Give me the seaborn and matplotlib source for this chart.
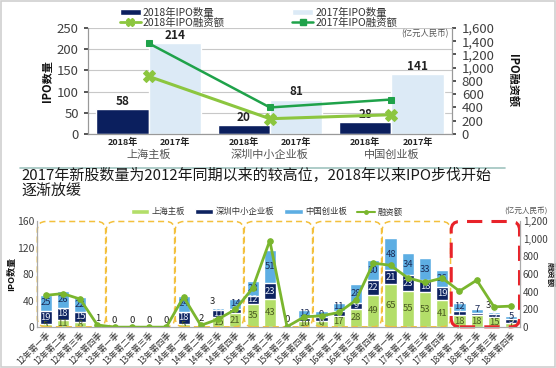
import numpy as np
import pandas as pd
import matplotlib
matplotlib.use('Agg')
import matplotlib.pyplot as plt
import seaborn as sns
from matplotlib.patches import FancyBboxPatch, Patch, Rectangle
from matplotlib.lines import Line2D
from matplotlib.ticker import FuncFormatter
import matplotlib.transforms as mtransforms

sns.set_theme(style='white')
plt.rcParams['font.family'] = ['Noto Sans CJK SC', 'DejaVu Sans']
plt.rcParams['axes.unicode_minus'] = False

# ---------------- data: top chart ----------------
boards = ['上海主板', '深圳中小企业板', '中国创业板']
ipo_2018 = [58, 20, 28]
ipo_2017 = [214, 81, 141]
fin_2018 = [870, 230, 290]
fin_2017 = [1370, 400, 520]

# ---------------- data: bottom chart ----------------
quarters = ['12年第一季', '12年第二季', '12年第三季', '12年第四季',
            '13年第一季', '13年第二季', '13年第三季', '13年第四季',
            '14年第一季', '14年第二季', '14年第三季', '14年第四季',
            '15年第一季', '15年第二季', '15年第三季', '15年第四季',
            '16年第一季', '16年第二季', '16年第三季', '16年第四季',
            '17年第一季', '17年第二季', '17年第三季', '17年第四季',
            '18年第一季', '18年第二季', '18年第三季', '18年第四季']
sh_main = [5, 11, 8, 1, 0, 0, 0, 0, 5, 0, 15, 21, 35, 43, 0, 10,
           9, 17, 28, 49, 65, 55, 53, 41, 18, 18, 15, 7]
sz_sme = [19, 18, 15, 1, 0, 0, 0, 0, 18, 0, 11, 7, 12, 23, 1, 4,
          6, 8, 9, 22, 21, 23, 18, 19, 7, 3, 5, 5]
cy_gem = [25, 26, 22, 1, 0, 0, 0, 0, 24, 2, 3, 14, 23, 51, 0, 12,
          9, 11, 28, 30, 48, 34, 33, 26, 12, 7, 3, 5]
fin_q = [360, 380, 318, 25, 0, 0, 0, 0, 343, 20, 90, 200, 440, 980, 5, 117,
         128, 166, 306, 725, 700, 558, 506, 555, 408, 532, 230, 238]

# ---------------- colours ----------------
NAVY = '#0B1F5E'
LIGHT = '#DCEAF6'
GREEN17 = '#1FA24A'
LIME18 = '#8CC63F'
SH_C = '#B3DE69'
SZ_C = '#0D2260'
CY_C = '#5DAEE3'
LINE_C = '#7AB62E'
GREY = '#404040'

fig = plt.figure(figsize=(5.56, 3.68), dpi=100)
fig.patch.set_facecolor('white')
fig.add_artist(Rectangle((0.002, 0.003), 0.996, 0.994, transform=fig.transFigure,
                         fill=False, edgecolor='#cfcfcf', lw=1.2))

# ================= TOP CHART =================
ax1 = fig.add_axes([0.158, 0.636, 0.655, 0.288])
df_top = pd.DataFrame({'board': boards * 2,
                       'year': ['2018年'] * 3 + ['2017年'] * 3,
                       'count': ipo_2018 + ipo_2017})
sns.barplot(data=df_top, x='board', y='count', hue='year', hue_order=['2018年', '2017年'],
            palette=[NAVY, LIGHT], width=0.86, saturation=1, ax=ax1, legend=False,
            err_kws={'linewidth': 0})
for cont in ax1.containers:
    ax1.bar_label(cont, fontsize=8.5, fontweight='bold', color='#222222', padding=1)
ax1.set_ylim(0, 250)
ax1.set_xlim(-0.5, 2.5)
ax1.set_yticks(range(0, 251, 50))
ax1.yaxis.grid(True, color='#c8c8c8', lw=0.8)
ax1.set_axisbelow(True)
pos = np.arange(len(boards))
ticks = np.concatenate([pos - 0.215, pos + 0.215])
ax1.set_xticks(np.sort(ticks))
ax1.set_xticklabels(['2018年', '2017年'] * 3, fontsize=6.5, fontweight='bold', color='#222222')
ax1.tick_params(axis='x', length=0, pad=3)
ax1.tick_params(axis='y', labelsize=9.5, colors=GREY, length=3, left=True)
ax1.set_xlabel('')
ax1.set_ylabel('IPO数量', fontsize=8, fontweight='bold', color='#111111', labelpad=2)
trans = mtransforms.blended_transform_factory(ax1.transData, ax1.transAxes)
for p, name in zip(pos, boards):
    ax1.text(p, -0.2, name, transform=trans, ha='center', va='center', fontsize=8, color='#555555')
ax1.spines['top'].set_visible(False)
for sp in ['left', 'bottom', 'right']:
    ax1.spines[sp].set_color('#999999')
    ax1.spines[sp].set_linewidth(0.8)

ax1r = ax1.twinx()
sns.lineplot(x=pos, y=fin_2017, ax=ax1r, color=GREEN17, marker='s', markersize=5,
             markeredgecolor=GREEN17, linewidth=1.8)
sns.lineplot(x=pos, y=fin_2018, ax=ax1r, color=LIME18, marker='X', markersize=9,
             markeredgecolor=LIME18, linewidth=2.2)
ax1r.set_ylim(0, 1600)
ax1r.set_yticks(range(0, 1601, 200))
ax1r.yaxis.set_major_formatter(FuncFormatter(lambda v, _: f'{int(v):,}'))
ax1r.tick_params(axis='y', labelsize=9.5, colors=GREY, length=3, right=True, pad=4)
ax1r.set_ylabel('IPO融资额', fontsize=8, fontweight='bold', rotation=270, labelpad=18, color='#111111')
ax1r.spines['top'].set_visible(False)
for sp in ['left', 'bottom', 'right']:
    ax1r.spines[sp].set_color('#999999')
    ax1r.spines[sp].set_linewidth(0.8)
ax1r.text(0.99, 0.985, '(亿元人民币)', transform=ax1r.transAxes, ha='right', va='top',
          fontsize=6, color='#555555')

top_handles = [Patch(facecolor=NAVY), Line2D([], [], color=LIME18, marker='X', markersize=6, lw=2),
               Patch(facecolor=LIGHT), Line2D([], [], color=GREEN17, marker='s', markersize=4, lw=1.8)]
top_labels = ['2018年IPO数量', '2018年IPO融资额', '2017年IPO数量', '2017年IPO融资额']
fig.legend(top_handles, top_labels, loc='upper center', bbox_to_anchor=(0.465, 1.005), ncol=2,
           frameon=False, fontsize=7.5, handlelength=2.0, handleheight=0.6, columnspacing=6.5,
           labelspacing=0.0, handletextpad=0.2, labelcolor='#333333')

# separator + title
fig.add_artist(Line2D([0.036, 0.908], [0.543, 0.543], transform=fig.transFigure,
                      color='#9fc3bf', lw=1.2))
fig.text(0.038, 0.503, '2017年新股数量为2012年同期以来的较高位，2018年以来IPO步伐开始\n逐渐放缓',
         fontsize=10.8, color='#1a1a1a', va='center', ha='left', linespacing=1.15)

# ================= BOTTOM CHART =================
ax2 = fig.add_axes([0.0665, 0.111, 0.8685, 0.288])
sh_a = np.array(sh_main)
sz_a = np.array(sz_sme)
cy_a = np.array(cy_gem)
mid = sh_a + sz_a
tot = mid + cy_a
df_b = pd.DataFrame({'q': quarters, 'tot': tot, 'mid': mid, 'sh': sh_a})
for col, c in [('tot', CY_C), ('mid', SZ_C), ('sh', SH_C)]:
    sns.barplot(data=df_b, x='q', y=col, order=quarters, color=c, saturation=1,
                width=0.7, ax=ax2, err_kws={'linewidth': 0}, zorder=2)
ax2.set_ylim(0, 160)
ax2.set_xlim(-0.5, len(quarters) - 0.5)
ax2.set_yticks(range(0, 161, 40))
ax2.set_xlabel('')
ax2.set_ylabel('IPO数量', fontsize=6.5, fontweight='bold', color='#111111', labelpad=1)
ax2.set_xticks(range(len(quarters)))
ax2.set_xticklabels(quarters, rotation=45, ha='right', rotation_mode='anchor', fontsize=6,
                    color='#333333')
ax2.tick_params(axis='x', length=0, pad=2)
ax2.tick_params(axis='y', labelsize=7.5, colors=GREY, length=0, pad=2)
ax2.spines['top'].set_visible(False)
for sp in ['left', 'bottom', 'right']:
    ax2.spines[sp].set_color('#aaaaaa')
    ax2.spines[sp].set_linewidth(0.8)

# segment labels
LF = 6.8
for i in range(len(quarters)):
    if tot[i] < 5:
        ax2.text(i, tot[i] + 4, str(cy_a[i]), ha='center', va='bottom', fontsize=LF, color='#222222')
        continue
    if sh_a[i] >= 5:
        ax2.text(i, sh_a[i] / 2, str(sh_a[i]), ha='center', va='center', fontsize=LF, color='#4a5a22')
    if sz_a[i] >= 5:
        ax2.text(i, sh_a[i] + sz_a[i] / 2, str(sz_a[i]), ha='center', va='center', fontsize=LF,
                 color='#e8eef8')
    if cy_a[i] >= 4:
        ax2.text(i, mid[i] + cy_a[i] / 2 + (2 if cy_a[i] < 8 else 0), str(cy_a[i]),
                 ha='center', va='center', fontsize=LF, color='#1b2a55')
    else:
        ax2.text(i - 0.35, tot[i] + 3, str(cy_a[i]), ha='center', va='bottom', fontsize=LF,
                 color='#222222')

# year boxes
for k in range(7):
    is_last = (k == 6)
    box = FancyBboxPatch((4 * k - 0.48, 0.5), 3.96, 159, boxstyle='round,pad=0,rounding_size=0.5',
                         mutation_aspect=26, transform=ax2.transData, fill=False,
                         edgecolor='#E8232A' if is_last else '#F3C03C',
                         lw=2.2 if is_last else 1.1,
                         linestyle=(0, (5, 3)) if is_last else (0, (4, 2.5)),
                         clip_on=False, zorder=3)
    ax2.add_patch(box)

ax2r = ax2.twinx()
sns.lineplot(x=np.arange(len(quarters)), y=fin_q, ax=ax2r, color=LINE_C, marker='o',
             markersize=4, markeredgecolor=LINE_C, linewidth=2)
ax2r.set_ylim(0, 1200)
ax2r.set_yticks(range(0, 1201, 200))
ax2r.yaxis.set_major_formatter(FuncFormatter(lambda v, _: f'{int(v):,}'))
ax2r.tick_params(axis='y', labelsize=7, colors=GREY, length=0, pad=2)
ax2r.set_ylabel('融资额', fontsize=6, fontweight='bold', rotation=270, labelpad=5, color='#111111')
ax2r.spines['top'].set_visible(False)
for sp in ['left', 'bottom', 'right']:
    ax2r.spines[sp].set_color('#aaaaaa')
    ax2r.spines[sp].set_linewidth(0.8)

bot_handles = [Patch(facecolor=SH_C), Patch(facecolor=SZ_C), Patch(facecolor=CY_C),
               Line2D([], [], color=LINE_C, marker='o', markersize=2.5, lw=1.5)]
bot_labels = ['上海主板', '深圳中小企业板', '中国创业板', '融资额']
fig.legend(bot_handles, bot_labels, loc='center', bbox_to_anchor=(0.48, 0.424), ncol=4,
           frameon=False, fontsize=6, handlelength=2.2, handleheight=0.5, columnspacing=1.2,
           handletextpad=0.3, labelcolor='#333333')
fig.text(0.985, 0.428, '(亿元人民币)', fontsize=5.5, color='#555555', ha='right', va='center')

fig.savefig('out.png', dpi=100)
